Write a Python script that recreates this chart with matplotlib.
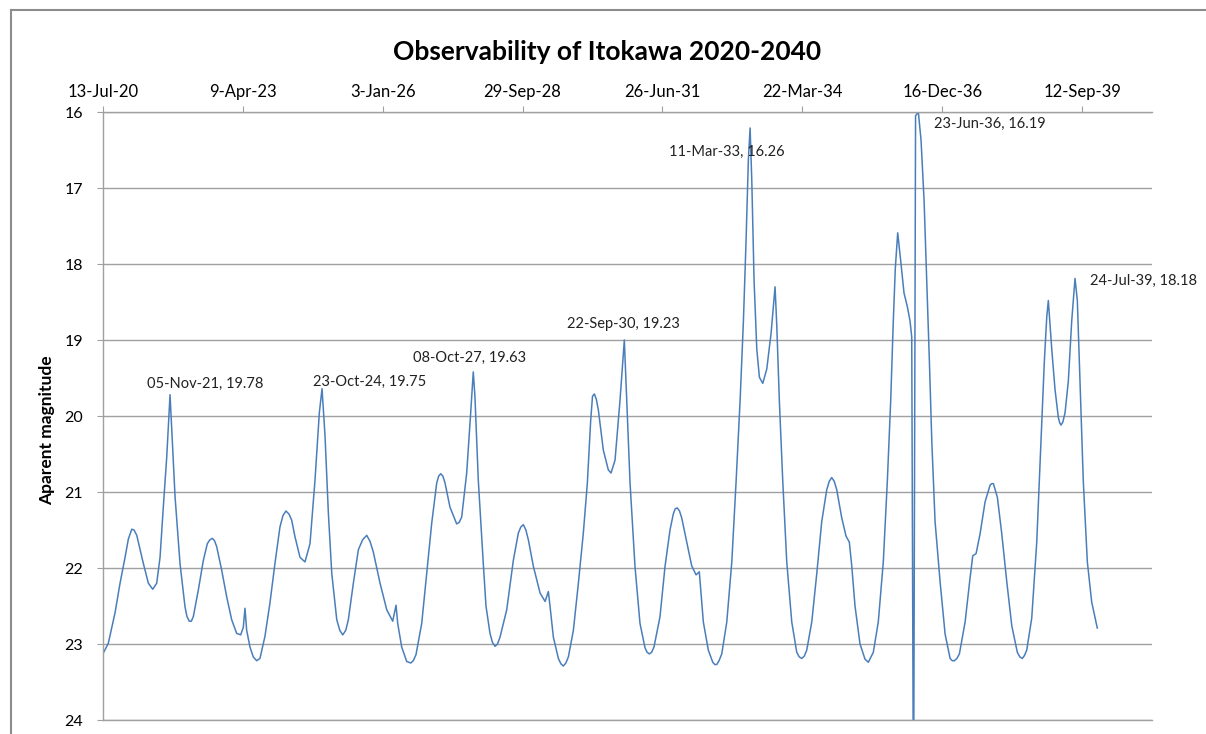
import numpy as np
import pandas as pd
import matplotlib
matplotlib.use('Agg')
import matplotlib.pyplot as plt
from matplotlib.lines import Line2D

plt.rcParams['font.family'] = ['Lato', 'DejaVu Sans']

# epochs as decimal years and apparent magnitude
years = [2020.536, 2020.634, 2020.765, 2020.863, 2020.961, 2021.025, 2021.092, 2021.137, 2021.190, 2021.319,
         2021.417, 2021.503, 2021.581, 2021.646, 2021.710, 2021.777, 2021.842, 2021.875, 2021.940, 2022.037,
         2022.135, 2022.174, 2022.219, 2022.259, 2022.298, 2022.396, 2022.494, 2022.572, 2022.621, 2022.670,
         2022.713, 2022.756, 2022.854, 2022.952, 2023.049, 2023.147, 2023.226, 2023.277, 2023.310, 2023.343,
         2023.408, 2023.472, 2023.539, 2023.603, 2023.701, 2023.799, 2023.897, 2023.995, 2024.054, 2024.112,
         2024.171, 2024.224, 2024.289, 2024.387, 2024.484, 2024.582, 2024.680, 2024.764, 2024.817, 2024.876,
         2024.941, 2025.007, 2025.105, 2025.164, 2025.222, 2025.281, 2025.332, 2025.430, 2025.528, 2025.610,
         2025.692, 2025.757, 2025.821, 2025.953, 2026.084, 2026.201, 2026.266, 2026.299, 2026.377, 2026.475,
         2026.554, 2026.604, 2026.657, 2026.769, 2026.867, 2026.965, 2027.063, 2027.102, 2027.141, 2027.183,
         2027.225, 2027.323, 2027.454, 2027.503, 2027.552, 2027.650, 2027.728, 2027.779, 2027.812, 2027.877,
         2027.975, 2028.028, 2028.106, 2028.155, 2028.204, 2028.253, 2028.302, 2028.433, 2028.562, 2028.660,
         2028.709, 2028.758, 2028.807, 2028.856, 2028.954, 2029.085, 2029.183, 2029.247, 2029.281, 2029.345,
         2029.443, 2029.492, 2029.541, 2029.590, 2029.639, 2029.737, 2029.835, 2029.932, 2030.011, 2030.077,
         2030.112, 2030.148, 2030.187, 2030.226, 2030.324, 2030.422, 2030.475, 2030.553, 2030.651, 2030.735,
         2030.782, 2030.847, 2030.944, 2031.042, 2031.140, 2031.183, 2031.224, 2031.269, 2031.316, 2031.434,
         2031.532, 2031.630, 2031.694, 2031.733, 2031.773, 2031.816, 2031.859, 2031.957, 2032.054, 2032.139,
         2032.203, 2032.231, 2032.282, 2032.379, 2032.466, 2032.505, 2032.544, 2032.589, 2032.642, 2032.740,
         2032.838, 2032.922, 2033.000, 2033.065, 2033.117, 2033.162, 2033.196, 2033.229, 2033.274, 2033.327,
         2033.378, 2033.444, 2033.523, 2033.607, 2033.685, 2033.718, 2033.769, 2033.836, 2033.914, 2034.012,
         2034.110, 2034.159, 2034.208, 2034.257, 2034.306, 2034.404, 2034.501, 2034.599, 2034.697, 2034.746,
         2034.795, 2034.844, 2034.893, 2034.991, 2035.075, 2035.140, 2035.187, 2035.251, 2035.349, 2035.447,
         2035.512, 2035.609, 2035.707, 2035.805, 2035.884, 2035.950, 2036.001, 2036.040, 2036.087, 2036.146,
         2036.210, 2036.275, 2036.328, 2036.361, 2036.396, 2036.436, 2036.490, 2036.543, 2036.602, 2036.655,
         2036.706, 2036.753, 2036.817, 2036.915, 2037.013, 2037.111, 2037.154, 2037.195, 2037.244, 2037.293,
         2037.405, 2037.502, 2037.555, 2037.620, 2037.698, 2037.796, 2037.894, 2037.927, 2037.959, 2038.037,
         2038.123, 2038.221, 2038.319, 2038.428, 2038.477, 2038.526, 2038.569, 2038.612, 2038.710, 2038.808,
         2038.892, 2038.957, 2039.004, 2039.035, 2039.102, 2039.166, 2039.231, 2039.258, 2039.284, 2039.319,
         2039.362, 2039.427, 2039.493, 2039.558, 2039.603, 2039.656, 2039.720, 2039.799, 2039.885, 2039.994]

mags = [23.12, 22.99, 22.59, 22.20, 21.86, 21.62, 21.49, 21.50, 21.57, 21.94,
        22.20, 22.28, 22.20, 21.86, 21.20, 20.54, 19.72, 20.18, 21.06, 21.94,
        22.51, 22.64, 22.70, 22.70, 22.64, 22.29, 21.90, 21.68, 21.63, 21.61,
        21.64, 21.72, 22.03, 22.38, 22.68, 22.86, 22.88, 22.78, 22.53, 22.82,
        23.04, 23.17, 23.22, 23.19, 22.90, 22.46, 21.94, 21.46, 21.31, 21.25,
        21.29, 21.37, 21.59, 21.86, 21.92, 21.68, 20.84, 19.96, 19.64, 20.27,
        21.28, 22.07, 22.68, 22.82, 22.88, 22.82, 22.68, 22.20, 21.76, 21.63,
        21.57, 21.65, 21.79, 22.20, 22.55, 22.70, 22.49, 22.73, 23.04, 23.23,
        23.25, 23.22, 23.14, 22.73, 22.07, 21.41, 20.88, 20.79, 20.76, 20.79,
        20.88, 21.20, 21.42, 21.40, 21.33, 20.75, 19.96, 19.42, 19.75, 20.84,
        21.94, 22.50, 22.86, 22.98, 23.03, 23.00, 22.91, 22.55, 21.90, 21.54,
        21.46, 21.43, 21.50, 21.63, 21.98, 22.33, 22.44, 22.31, 22.51, 22.91,
        23.19, 23.26, 23.29, 23.25, 23.17, 22.82, 22.20, 21.54, 20.88, 20.05,
        19.74, 19.71, 19.78, 19.92, 20.45, 20.71, 20.75, 20.58, 19.79, 19.00,
        19.79, 20.88, 21.98, 22.73, 23.05, 23.11, 23.13, 23.11, 23.04, 22.64,
        21.98, 21.50, 21.29, 21.22, 21.21, 21.25, 21.34, 21.66, 21.97, 22.09,
        22.05, 22.29, 22.71, 23.08, 23.24, 23.27, 23.27, 23.22, 23.13, 22.71,
        21.92, 20.86, 19.80, 18.75, 17.69, 16.63, 16.21, 16.90, 18.22, 19.12,
        19.49, 19.57, 19.38, 18.91, 18.30, 18.80, 19.80, 20.86, 21.92, 22.71,
        23.11, 23.17, 23.19, 23.16, 23.08, 22.71, 22.08, 21.39, 20.97, 20.86,
        20.81, 20.86, 20.97, 21.34, 21.58, 21.66, 21.97, 22.50, 23.00, 23.20,
        23.24, 23.11, 22.71, 21.92, 20.86, 19.80, 18.75, 18.06, 17.59, 17.96,
        18.38, 18.56, 18.75, 18.96, 25.50, 16.05, 16.00, 16.37, 17.16, 18.22,
        19.28, 20.33, 21.39, 22.18, 22.87, 23.19, 23.22, 23.22, 23.19, 23.13,
        22.71, 22.13, 21.84, 21.81, 21.55, 21.13, 20.91, 20.89, 20.89, 21.07,
        21.55, 22.18, 22.76, 23.11, 23.17, 23.19, 23.15, 23.08, 22.66, 21.66,
        20.33, 19.28, 18.70, 18.48, 19.12, 19.65, 20.02, 20.09, 20.12, 20.08,
        19.96, 19.54, 18.75, 18.19, 18.48, 19.54, 20.86, 21.92, 22.45, 22.79]

tick_labels = ['13-Jul-20', '9-Apr-23', '3-Jan-26', '29-Sep-28',
               '26-Jun-31', '22-Mar-34', '16-Dec-36', '12-Sep-39']
y_ticks = [16, 17, 18, 19, 20, 21, 22, 23, 24]

peak_labels = ['05-Nov-21, 19.78', '23-Oct-24, 19.75', '08-Oct-27, 19.63',
               '22-Sep-30, 19.23', '11-Mar-33, 16.26', '23-Jun-36, 16.19',
               '24-Jul-39, 18.18']
# where each label sits relative to its point (pixels, y up)
label_offsets = [(-23, 15), (-9, 15), (-60, 30), (-57, 33),
                 (-81, -20), (16, 3), (15, -3)]

assert len(years) == len(mags)


def to_date(y):
    yr = int(y)
    start = pd.Timestamp(year=yr, month=1, day=1)
    length = (pd.Timestamp(year=yr + 1, month=1, day=1) - start).days
    return start + pd.Timedelta(days=(y - yr) * length)


dates = pd.DatetimeIndex([to_date(y) for y in years])
tick_pos = pd.to_datetime(tick_labels, format='%d-%b-%y')

W, H = 1206, 734
fig = plt.figure(figsize=(W / 100, H / 100), dpi=100)
ax = fig.add_axes([103 / W, 1 - 720 / H, (1152 - 103) / W, (720 - 112) / H])

ax.plot(dates, mags, color='#4a7ebb', lw=1.1, solid_joinstyle='round')

ax.set_xlim(tick_pos[0], tick_pos[0] + pd.Timedelta(days=7500))
ax.set_ylim(24, 16)
ax.set_xticks(tick_pos)
ax.set_xticklabels(tick_labels)
ax.set_yticks(y_ticks)
ax.set_yticklabels([str(v) for v in y_ticks])
ax.xaxis.tick_top()

grey = '#a0a0a0'
ax.grid(axis='y', color=grey, lw=1.0)
ax.set_axisbelow(True)
ax.spines['right'].set_visible(False)
for s in ['left', 'top', 'bottom']:
    ax.spines[s].set_color(grey)
    ax.spines[s].set_linewidth(1.0)
ax.tick_params(axis='x', direction='out', length=4.3, color=grey, labelsize=12, pad=4)
ax.tick_params(axis='y', direction='out', length=4.3, color=grey, labelsize=11.5, pad=10)

ax.set_ylabel('Aparent magnitude', fontsize=12.5, fontweight='bold')
ax.yaxis.set_label_coords(-(103 - 55) / 1049, (720 - 430) / 608)

for lab, off in zip(peak_labels, label_offsets):
    d, v = lab.split(', ')
    ax.annotate(lab, (pd.to_datetime(d, format='%d-%b-%y'), float(v)),
                xytext=off, textcoords='offset pixels',
                ha='left', va='center', fontsize=10.5, color='#222222')

fig.text(607 / W, 1 - 60 / H, 'Observability of Itokawa 2020-2040',
         ha='center', va='baseline', fontsize=19, fontweight='bold')

# chart frame
fig.add_artist(Line2D([11 / W, 1], [1 - 10 / H, 1 - 10 / H], color='#8c8c8c', lw=1.5))
fig.add_artist(Line2D([11 / W, 11 / W], [0, 1 - 10 / H], color='#8c8c8c', lw=1.5))

fig.savefig('out.png', dpi=100)
